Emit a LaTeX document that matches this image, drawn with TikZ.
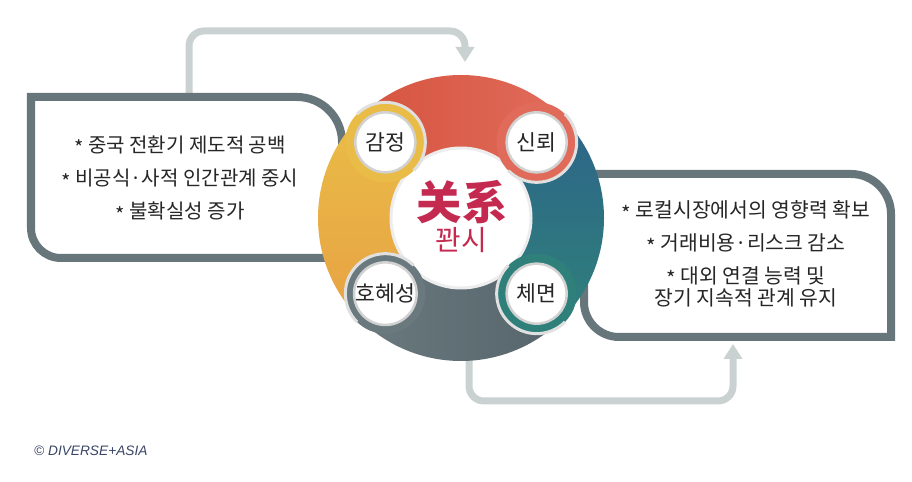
\documentclass[tikz,border=0pt]{standalone}
\usepackage{fontspec}
\setmainfont{Noto Sans CJK KR}
\newfontfamily\zhfont{Noto Sans CJK SC}
\newfontfamily\latinfont{Liberation Sans}
\usetikzlibrary{arrows.meta}
\definecolor{dlslate}{HTML}{66767B}
\definecolor{dlmist}{HTML}{C9D1D1}
\definecolor{dlredA}{HTML}{D6543F}
\definecolor{dlredB}{HTML}{E06B5A}
\definecolor{dltealA}{HTML}{2D6589}
\definecolor{dltealB}{HTML}{2F7F7B}
\definecolor{dlgrayA}{HTML}{69797E}
\definecolor{dlgrayB}{HTML}{55656B}
\definecolor{dlgoldA}{HTML}{E9BC47}
\definecolor{dlgoldB}{HTML}{E8A244}
\definecolor{dlcrimson}{HTML}{C42A50}
\definecolor{dlnavy}{HTML}{3A4566}
\newcommand\itemstar{\raisebox{-0.35ex}{*}}

\begin{document}
\begin{tikzpicture}[
  every node/.style={font=\fontsize{11.4}{19}\selectfont, text=black!85},
  box/.style={draw=dlslate, line width=0.16cm, fill=white},
  loop/.style={draw=dlmist, line width=0.14cm, rounded corners=0.3cm, -{Triangle[width=0.36cm,length=0.3cm]}},
  headrim/.style={draw=black!12, line width=0.06cm},
  tag/.style={circle, fill=white, draw=black!18, line width=0.05cm, minimum size=1.2cm, inner sep=0pt, font=\fontsize{12.3}{13}\selectfont},
]
\useasboundingbox (0,0) rectangle (18.24,9.64);

% feedback arrows
\coordinate (fromleft) at (3.78,7.70);
\coordinate (toring) at (9.30,8.40);
\draw[loop] (fromleft) |- (9.30,9.02) -- (toring);
\coordinate (fromring) at (9.38,3.20);
\coordinate (toright) at (14.66,2.76);
\draw[loop] (fromring) |- (14.66,1.62) -- (toright);

% side boxes
\draw[box] (0.62,7.70) -- (5.94,7.70) arc[start angle=90, end angle=0, radius=0.9] -- (6.84,4.48) -- (1.22,4.48) arc[start angle=270, end angle=180, radius=0.6] -- cycle;
\draw[box] (11.68,6.16) -- (17.02,6.16) arc[start angle=90, end angle=0, radius=0.8] -- (17.82,2.90) -- (12.38,2.90) arc[start angle=270, end angle=180, radius=0.7] -- cycle;

% cycle ring
\begin{scope}[shift={(9.22,5.28)}]
\shade[left color=dlredA, right color=dlredB] (135:2.86) arc[start angle=135, end angle=45, radius=2.86] -- (45:1.40) arc[start angle=45, end angle=135, radius=1.40] -- cycle;
\shade[top color=dltealA, bottom color=dltealB] (45:2.86) arc[start angle=45, end angle=-45, radius=2.86] -- (-45:1.40) arc[start angle=-45, end angle=45, radius=1.40] -- cycle;
\shade[left color=dlgrayA, right color=dlgrayB] (-45:2.86) arc[start angle=-45, end angle=-135, radius=2.86] -- (-135:1.40) arc[start angle=-135, end angle=-45, radius=1.40] -- cycle;
\shade[top color=dlgoldA, bottom color=dlgoldB] (-135:2.86) arc[start angle=-135, end angle=-225, radius=2.86] -- (-225:1.40) arc[start angle=-225, end angle=-135, radius=1.40] -- cycle;
\node[circle, fill=white, draw=black!7, line width=0.06cm, minimum size=2.8cm] (core) at (0,0) {};

% rounded heads over the next segment
\foreach \a/\c in {45/dlredB, -45/dltealB, -135/dlgrayA, 135/dlgoldA} {
  \fill[\c] (\a:2.14) circle (0.8);
  \draw[headrim] (\a:2.14) ++(\a-180:0.8) arc[start angle=\a-180, end angle=\a, radius=0.8];
}

\node[tag] (sinroe) at (45:2.14) {신뢰};
\node[tag] (chemyeon) at (-45:2.14) {체면};
\node[tag] (hohyeseong) at (-135:2.14) {호혜성};
\node[tag] (gamjeong) at (135:2.14) {감정};
\end{scope}

\node[font=\zhfont\bfseries\fontsize{25.8}{27}\selectfont, text=dlcrimson] (guanxi) at (9.24,5.60) {关系};
\node[font=\fontsize{15.9}{17}\selectfont, text=dlcrimson] (kkwansi) at (9.22,4.84) {꽌시};

\node[align=center] (leftnote) at (3.60,6.06) {\itemstar{} 중국 전환기 제도적 공백\\ \itemstar{} 비공식·사적 인간관계 중시\\ \itemstar{} 불확실성 증가};
\node[align=center, font=\fontsize{11.6}{18.7}\selectfont] (rightnote) at (14.92,4.57) {\itemstar{} 로컬시장에서의 영향력 확보\\ \itemstar{} 거래비용·리스크 감소\\ \itemstar{} 대외 연결 능력 및\\[-6.2pt] 장기 지속적 관계 유지};

\node[anchor=west, font=\latinfont\itshape\fontsize{7.8}{9}\selectfont, text=dlnavy] (credit) at (0.56,0.62) {© DIVERSE+ASIA};
\end{tikzpicture}
\end{document}
